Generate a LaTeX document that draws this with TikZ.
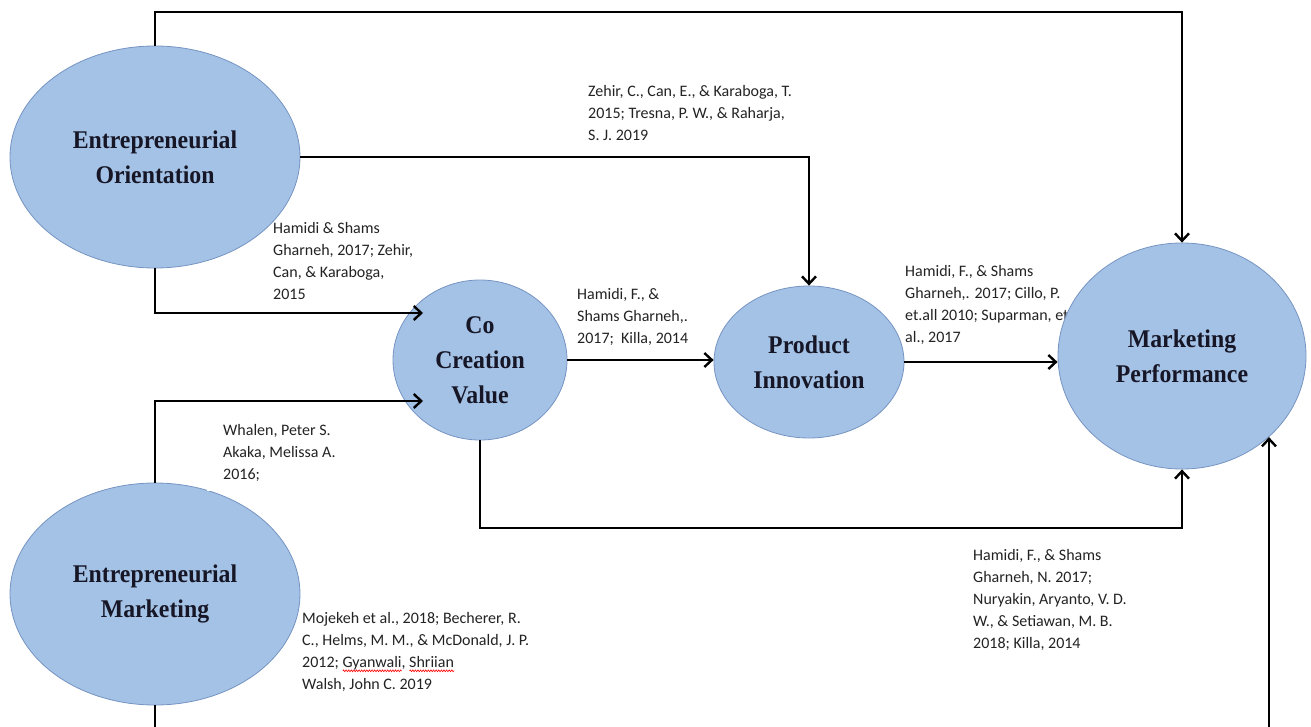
\documentclass[tikz,border=0pt]{standalone}
\usepackage{fontspec}
\setmainfont{Liberation Serif}
\newfontfamily\calib{Carlito}
\usetikzlibrary{arrows.meta,shapes.geometric,decorations.pathmorphing}
\definecolor{bubblefill}{RGB}{164,194,230}
\definecolor{bubbleedge}{RGB}{118,148,194}
\definecolor{ink}{RGB}{22,22,38}
\definecolor{citeink}{RGB}{35,35,35}
\newsavebox\squigbox
\newcommand\redsquig[1]{\sbox\squigbox{#1}\rlap{\tikz[baseline=0pt,x=1pt,y=1pt]\draw[red,line width=0.6pt,decorate,decoration={zigzag,amplitude=0.9pt,segment length=2.6pt}] (0,-3.5) -- (\the\wd\squigbox,-3.5);}#1}
\newcommand\tallbold[1]{\scalebox{1}[1.07]{#1}}
\tikzset{
  bubble/.style={ellipse, fill=bubblefill, draw=bubbleedge, line width=0.8pt, inner sep=0pt,
    align=center, text=ink, font=\fontsize{23.8}{35}\selectfont\bfseries},
  citelabel/.style={anchor=north west, inner sep=0pt, align=left, text=citeink,
    font=\calib\fontsize{16}{22}\selectfont},
  conn/.style={line width=2.8pt, draw=black, -{Straight Barb[length=7.5pt,width=14pt,line width=2.4pt]}}
}
\begin{document}
\begin{tikzpicture}[x=1pt,y=-1pt]
\path[use as bounding box, fill=white] (0,0) rectangle (1311,727);
\clip (0,0) rectangle (1311,727);

\node[bubble, minimum width=290pt, minimum height=222pt] (EO) at (155,157) {\tallbold{Entrepreneurial}\\\tallbold{Orientation}};
\node[bubble, minimum width=174pt, minimum height=160pt] (CCV) at (480,360) {\tallbold{Co}\\\tallbold{Creation}\\\tallbold{Value}};
\node[bubble, minimum width=190pt, minimum height=152pt] (PI) at (809,362) {\tallbold{Product}\\\tallbold{Innovation}};
\node[bubble, minimum width=290pt, minimum height=222pt] (EM) at (155,594) {\tallbold{Entrepreneurial}\\\tallbold{Marketing}};

\fill[white] (207,470) rectangle (330,491);

\node[citelabel] (L1) at (273,222) {Hamidi \& Shams\\Gharneh, 2017; Zehir,\\Can, \& Karaboga,\\2015};
\node[citelabel] (L2) at (588,85) {Zehir, C., Can, E., \& Karaboga, T.\\2015; Tresna, P. W., \& Raharja,\\S. J. 2019};
\node[citelabel] (L3) at (577,288) {Hamidi, F., \&\\Shams Gharneh,.\\2017;\ \ Killa, 2014};
\node[citelabel] (L4) at (905,265) {Hamidi, F., \& Shams\\Gharneh,. 2017; Cillo, P.\\et.all 2010; Suparman, et\\al., 2017};
\node[citelabel] (L5) at (223,424) {Whalen, Peter S.\\Akaka, Melissa A.\\2016;};
\node[citelabel] (L6) at (302,612) {Mojekeh et al., 2018; Becherer, R.\\C., Helms, M. M., \& McDonald, J. P.\\2012; \redsquig{Gyanwali}, \redsquig{Shriian}\\Walsh, John C. 2019};
\node[citelabel] (L7) at (973,549) {Hamidi, F., \& Shams\\Gharneh, N. 2017;\\Nuryakin, Aryanto, V. D.\\W., \& Setiawan, M. B.\\2018; Killa, 2014};

\node[bubble, minimum width=248pt, minimum height=226pt] (MP) at (1182,356) {\tallbold{Marketing}\\\tallbold{Performance}};

\coordinate (top) at (0,12);
\coordinate (t1) at (423,313);
\coordinate (t2) at (423,401);
\coordinate (low) at (0,528);
\coordinate (floor) at (0,760);

\draw[conn] (EO.north) |- (MP.north |- top) -- (MP.north);
\draw[conn] (EO.east) -| (PI.north);
\draw[conn] (EO.south) |- (t1);
\draw[conn] (EM.north) |- (t2);
\draw[conn] (CCV.east) -- (CCV.east -| PI.west);
\draw[conn] (PI.east) -- (PI.east -| MP.west);
\draw[conn] (CCV.south) |- (MP.south |- low) -- (MP.south);
\draw[conn] (EM.south) |- (MP.-43 |- floor) -- (MP.-43);
\end{tikzpicture}
\end{document}
